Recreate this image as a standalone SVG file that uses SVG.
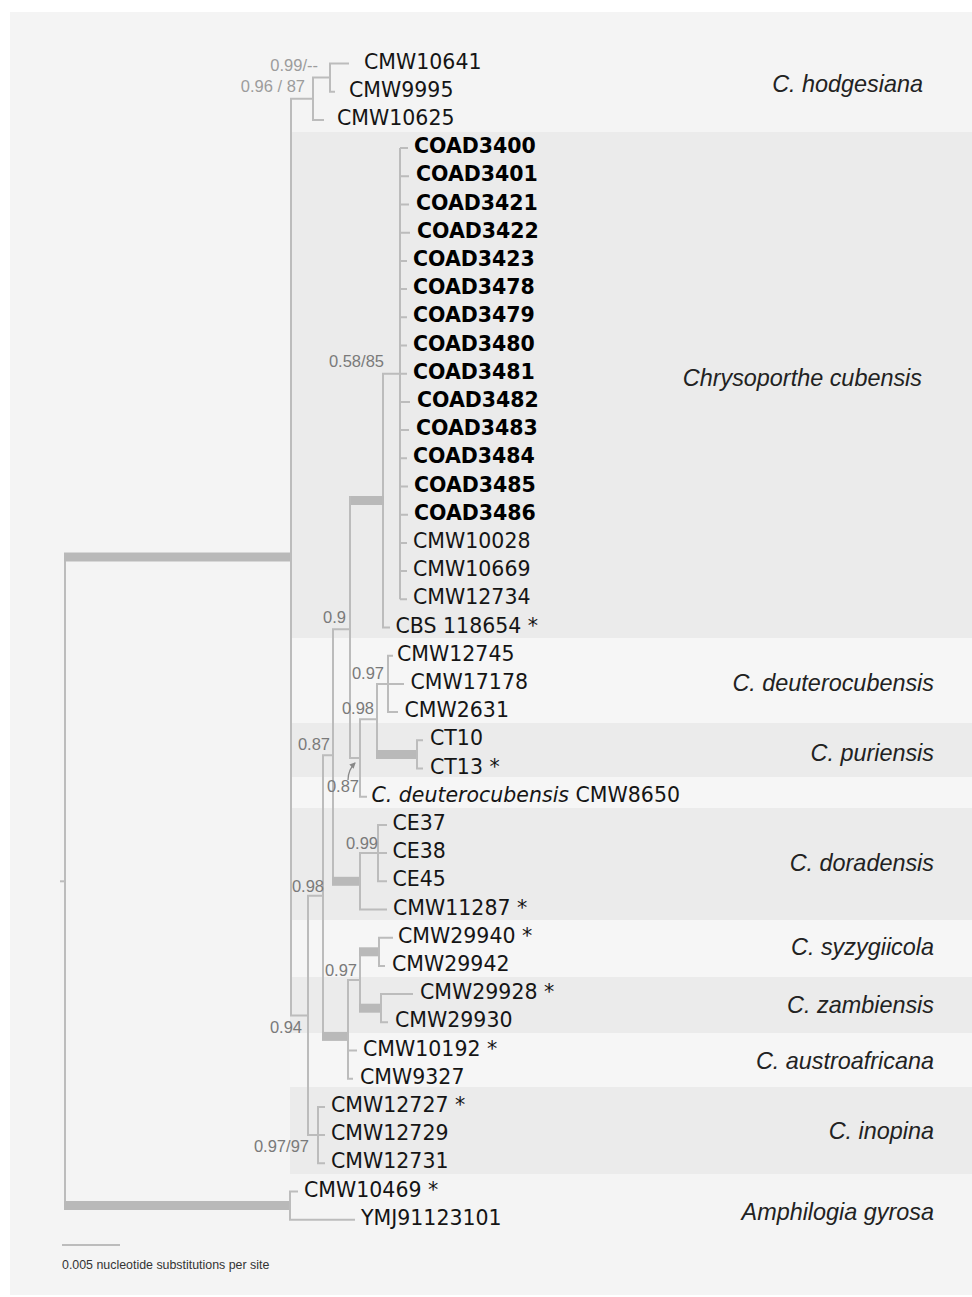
<svg xmlns="http://www.w3.org/2000/svg" width="972" height="1297" viewBox="0 0 972 1297">
<defs>
<style>
.br{stroke:#bcbcbc;stroke-width:2;fill:none;stroke-linejoin:miter;stroke-linecap:butt}
.th{stroke:#b9b9b9;stroke-width:9;fill:none}
.lf{font-family:"DejaVu Sans",sans-serif;font-size:20.5px;fill:#151515}
.b{font-weight:bold;fill:#000}
.sp{font-family:"Liberation Sans",Arial,sans-serif;font-size:16.5px;fill:#7a7a7a;text-anchor:end}
.sl{fill:#9c9c9c}
.cl{font-family:"Liberation Sans",Arial,sans-serif;font-style:italic;font-size:23.4px;fill:#222;text-anchor:end}
.dk{fill:#ebebeb}
.lt{fill:#f6f6f6}
</style>
<marker id="ah" markerWidth="7" markerHeight="7" refX="5" refY="3" orient="auto" markerUnits="userSpaceOnUse">
<path d="M0,0 L6,3 L0,6 Z" fill="#888"/>
</marker>
</defs>
<rect x="0" y="0" width="972" height="1297" fill="#fff"/>
<rect x="10" y="12" width="962" height="1283" fill="#f4f4f4"/>
<g id="bands">
<rect class="dk" x="290" y="132" width="682" height="506"/>
<rect class="lt" x="290" y="638" width="682" height="85"/>
<rect class="dk" x="290" y="723" width="682" height="54"/>
<rect class="lt" x="290" y="777" width="682" height="31"/>
<rect class="dk" x="290" y="808" width="682" height="112"/>
<rect class="lt" x="290" y="920" width="682" height="57"/>
<rect class="dk" x="290" y="977" width="682" height="56"/>
<rect class="lt" x="290" y="1033" width="682" height="54"/>
<rect class="dk" x="290" y="1087" width="682" height="87"/>
</g>
<g id="clade-labels">
<text class="cl" x="923" y="92">C. hodgesiana</text>
<text class="cl" x="922" y="386">Chrysoporthe cubensis</text>
<text class="cl" x="934" y="690.5">C. deuterocubensis</text>
<text class="cl" x="934" y="761">C. puriensis</text>
<text class="cl" x="934" y="870.5">C. doradensis</text>
<text class="cl" x="934" y="955">C. syzygiicola</text>
<text class="cl" x="934" y="1012.5">C. zambiensis</text>
<text class="cl" x="934" y="1069">C. austroafricana</text>
<text class="cl" x="934" y="1139">C. inopina</text>
<text class="cl" x="934" y="1220">Amphilogia gyrosa</text>
</g>
<g id="connectors">
<line class="br" x1="60" y1="881.3" x2="65" y2="881.3"/>
<line class="br" x1="65" y1="553" x2="65" y2="1210"/>
<line class="th" x1="64" y1="557.1" x2="292" y2="557.1"/>
<line class="th" x1="64" y1="1205.6" x2="291" y2="1205.6"/>
<path class="br" d="M298,1191.5 H290 V1219.7 H355"/>
<path class="br" d="M349,63.5 H330 V91.7 H335"/>
<path class="br" d="M330,77.6 H313 V119.9 H324"/>
<path class="br" d="M313,98.75 H291 V1015.5 H308"/>
<path class="br" d="M400,148.1 V599.3 M400,148.1 H408 M400,176.3 H409 M400,204.5 H409 M400,232.7 H410 M400,260.9 H407 M400,289.1 H407 M400,317.3 H407 M400,345.5 H407 M400,373.7 H407 M400,401.9 H410 M400,430.1 H409 M400,458.3 H407 M400,486.5 H408 M400,514.7 H408 M400,542.9 H407 M400,571.1 H407 M400,599.3 H407"/>
<path class="br" d="M400,373.7 H383 V627.5 H390"/>
<line class="th" x1="349" y1="500.6" x2="384" y2="500.6"/>
<path class="br" d="M350,496 V757.9 H360"/>
<path class="br" d="M393,655.7 H388 V712.1 H398 M388,683.9 H404"/>
<path class="br" d="M388,683.9 H377 V758"/>
<line class="th" x1="376" y1="754.4" x2="418" y2="754.4"/>
<path class="br" d="M423,740.3 H417 V768.5 H423"/>
<path class="br" d="M377,719.15 H360 V796.7 H367"/>
<path class="br" d="M350,629.25 H333 V885"/>
<line class="th" x1="332" y1="881.3" x2="361" y2="881.3"/>
<path class="br" d="M378,853.1 H360 V909.5 H387"/>
<path class="br" d="M387,824.9 H378 V881.3 H387 M378,853.1 H387"/>
<path class="br" d="M333,755.3 H323 V1040"/>
<line class="th" x1="322" y1="1036.4" x2="349" y2="1036.4"/>
<path class="br" d="M360,980 H348 V1078.7 H353 M348,1050.5 H357"/>
<path class="br" d="M360,948 V1012"/>
<line class="th" x1="359" y1="951.8" x2="380" y2="951.8"/>
<line class="th" x1="359" y1="1008.2" x2="382" y2="1008.2"/>
<path class="br" d="M393,937.7 H379 V965.9 H385"/>
<path class="br" d="M413,994.1 H381 V1022.3 H388"/>
<path class="br" d="M323,895.85 H308 V1135.1 H318"/>
<path class="br" d="M325,1106.9 H318 V1163.3 H325 M318,1135.1 H325"/>
<path d="M348,780 C348,773 351,767 355,763" fill="none" stroke="#888" stroke-width="1.3" marker-end="url(#ah)"/>
</g>
<g id="supports">
<text class="sp sl" x="318" y="71">0.99/--</text>
<text class="sp sl" x="305" y="91.7">0.96 / 87</text>
<text class="sp" x="384" y="367">0.58/85</text>
<text class="sp" x="346" y="622.7">0.9</text>
<text class="sp" x="384" y="679">0.97</text>
<text class="sp" x="374" y="714">0.98</text>
<text class="sp" x="330" y="750">0.87</text>
<text class="sp" x="359" y="792">0.87</text>
<text class="sp" x="378" y="849">0.99</text>
<text class="sp" x="324" y="892">0.98</text>
<text class="sp" x="357" y="975.7">0.97</text>
<text class="sp" x="302" y="1033">0.94</text>
<text class="sp" x="309" y="1151.7">0.97/97</text>
</g>
<g id="CMW10641"><text class="lf" x="364" y="68.6">CMW10641</text></g>
<g id="CMW9995"><text class="lf" x="349" y="96.8">CMW9995</text></g>
<g id="CMW10625"><text class="lf" x="337" y="125">CMW10625</text></g>
<g id="COAD3400"><text class="lf b" x="414" y="153.2">COAD3400</text></g>
<g id="COAD3401"><text class="lf b" x="416" y="181.4">COAD3401</text></g>
<g id="COAD3421"><text class="lf b" x="416" y="209.6">COAD3421</text></g>
<g id="COAD3422"><text class="lf b" x="417" y="237.8">COAD3422</text></g>
<g id="COAD3423"><text class="lf b" x="413" y="266">COAD3423</text></g>
<g id="COAD3478"><text class="lf b" x="413" y="294.2">COAD3478</text></g>
<g id="COAD3479"><text class="lf b" x="413" y="322.4">COAD3479</text></g>
<g id="COAD3480"><text class="lf b" x="413" y="350.6">COAD3480</text></g>
<g id="COAD3481"><text class="lf b" x="413" y="378.8">COAD3481</text></g>
<g id="COAD3482"><text class="lf b" x="417" y="407">COAD3482</text></g>
<g id="COAD3483"><text class="lf b" x="416" y="435.2">COAD3483</text></g>
<g id="COAD3484"><text class="lf b" x="413" y="463.4">COAD3484</text></g>
<g id="COAD3485"><text class="lf b" x="414" y="491.6">COAD3485</text></g>
<g id="COAD3486"><text class="lf b" x="414" y="519.8">COAD3486</text></g>
<g id="CMW10028"><text class="lf" x="413" y="548">CMW10028</text></g>
<g id="CMW10669"><text class="lf" x="413" y="576.2">CMW10669</text></g>
<g id="CMW12734"><text class="lf" x="413" y="604.4">CMW12734</text></g>
<g id="CBS118654"><text class="lf" x="395.5" y="632.6">CBS 118654 *</text></g>
<g id="CMW12745"><text class="lf" x="397" y="660.8">CMW12745</text></g>
<g id="CMW17178"><text class="lf" x="410.5" y="689">CMW17178</text></g>
<g id="CMW2631"><text class="lf" x="404.5" y="717.2">CMW2631</text></g>
<g id="CT10"><text class="lf" x="430" y="745.4">CT10</text></g>
<g id="CT13"><text class="lf" x="430" y="773.6">CT13 *</text></g>
<g id="CMW8650"><text class="lf" x="371.5" y="801.8"><tspan font-style="italic">C. deuterocubensis</tspan> CMW8650</text></g>
<g id="CE37"><text class="lf" x="392.5" y="830">CE37</text></g>
<g id="CE38"><text class="lf" x="392.5" y="858.2">CE38</text></g>
<g id="CE45"><text class="lf" x="392.5" y="886.4">CE45</text></g>
<g id="CMW11287"><text class="lf" x="393" y="914.6">CMW11287 *</text></g>
<g id="CMW29940"><text class="lf" x="398" y="942.8">CMW29940 *</text></g>
<g id="CMW29942"><text class="lf" x="392" y="971">CMW29942</text></g>
<g id="CMW29928"><text class="lf" x="420" y="999.2">CMW29928 *</text></g>
<g id="CMW29930"><text class="lf" x="395" y="1027.4">CMW29930</text></g>
<g id="CMW10192"><text class="lf" x="363" y="1055.6">CMW10192 *</text></g>
<g id="CMW9327"><text class="lf" x="360" y="1083.8">CMW9327</text></g>
<g id="CMW12727"><text class="lf" x="331" y="1112">CMW12727 *</text></g>
<g id="CMW12729"><text class="lf" x="331" y="1140.2">CMW12729</text></g>
<g id="CMW12731"><text class="lf" x="331" y="1168.4">CMW12731</text></g>
<g id="CMW10469"><text class="lf" x="304" y="1196.6">CMW10469 *</text></g>
<g id="YMJ91123101"><text class="lf" x="361" y="1224.8">YMJ91123101</text></g>
<g id="scale">
<line x1="62" y1="1245" x2="120" y2="1245" stroke="#bcbcbc" stroke-width="2"/>
<text x="62" y="1269" font-family="Liberation Sans, Arial, sans-serif" font-size="12.4" fill="#333">0.005 nucleotide substitutions per site</text>
</g>
</svg>
